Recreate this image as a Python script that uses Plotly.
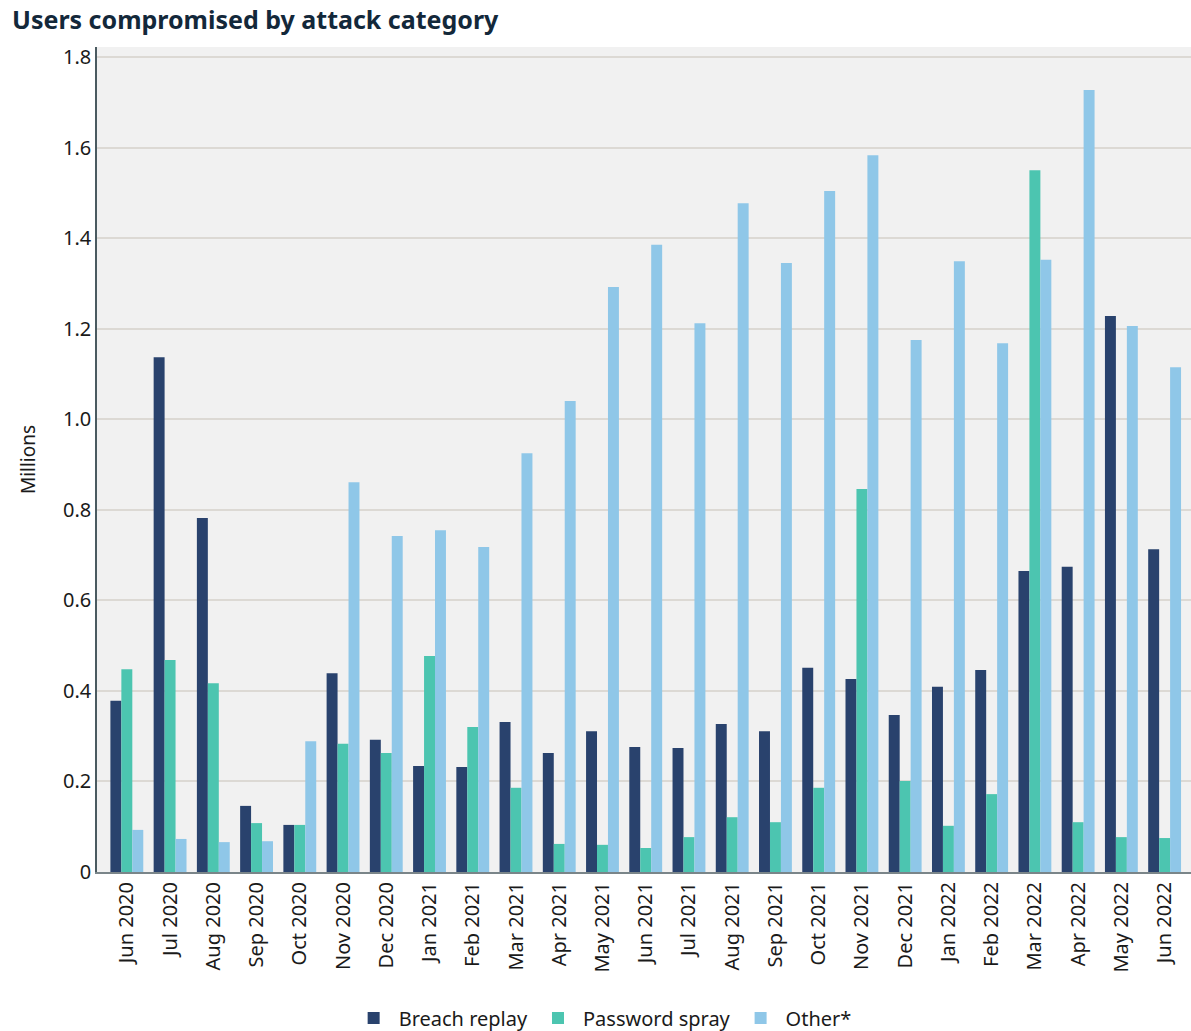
import plotly.graph_objects as go

months = ["Jun 2020", "Jul 2020", "Aug 2020", "Sep 2020", "Oct 2020", "Nov 2020", "Dec 2020",
          "Jan 2021", "Feb 2021", "Mar 2021", "Apr 2021", "May 2021", "Jun 2021", "Jul 2021",
          "Aug 2021", "Sep 2021", "Oct 2021", "Nov 2021", "Dec 2021", "Jan 2022", "Feb 2022",
          "Mar 2022", "Apr 2022", "May 2022", "Jun 2022"]

breach_replay = [0.378, 1.137, 0.782, 0.146, 0.104, 0.439, 0.292, 0.234, 0.232, 0.331, 0.263,
                 0.311, 0.276, 0.274, 0.327, 0.311, 0.451, 0.426, 0.347, 0.409, 0.446, 0.665,
                 0.674, 1.228, 0.713]
password_spray = [0.448, 0.468, 0.417, 0.108, 0.104, 0.283, 0.263, 0.477, 0.320, 0.186, 0.062,
                  0.060, 0.053, 0.077, 0.121, 0.110, 0.186, 0.846, 0.201, 0.102, 0.172, 1.550,
                  0.110, 0.077, 0.075]
other = [0.093, 0.073, 0.066, 0.068, 0.289, 0.861, 0.742, 0.755, 0.718, 0.925, 1.040,
         1.292, 1.385, 1.212, 1.477, 1.345, 1.504, 1.583, 1.175, 1.349, 1.168, 1.352,
         1.727, 1.206, 1.115]

y_ticks = [0, 0.2, 0.4, 0.6, 0.8, 1.0, 1.2, 1.4, 1.6, 1.8]
y_tick_labels = ["0", "0.2", "0.4", "0.6", "0.8", "1.0", "1.2", "1.4", "1.6", "1.8"]

FONT = "Noto Sans"

fig = go.Figure()
fig.add_bar(x=months, y=breach_replay, name="Breach replay", marker_color="#29426d")
fig.add_bar(x=months, y=password_spray, name="Password spray", marker_color="#4cc5b0")
fig.add_bar(x=months, y=other, name="Other*", marker_color="#8fc7e8")

fig.update_traces(marker_line_width=0)

fig.update_layout(
    width=1191, height=1031,
    barmode="group", bargap=0.24, bargroupgap=0,
    plot_bgcolor="#f1f1f1", paper_bgcolor="white",
    margin=dict(l=97, r=0, t=47, b=159),
    font=dict(family=FONT, size=20, color="#1a1a1a"),
    title=dict(text="<b>Users compromised by attack category</b>",
               x=12 / 1191, xanchor="left", xref="container",
               y=1 - 20 / 1031, yanchor="middle", yref="container",
               font=dict(family=FONT, size=25, color="#13283a")),
    legend=dict(orientation="h", x=0.506, xanchor="center", xref="container",
                y=1 - 1018 / 1031, yanchor="middle", yref="container",
                font=dict(size=20, color="#1a1a1a"), itemwidth=40,
                traceorder="normal"),
    xaxis=dict(tickangle=-90, showgrid=False, showline=True, linecolor="#7a8589",
               linewidth=2, ticks="", tickfont=dict(size=20),
               range=[-0.69, 24.61]),
    yaxis=dict(range=[0, 1.822], tickvals=y_ticks, ticktext=y_tick_labels,
               showgrid=True, gridcolor="#dcd9d4", gridwidth=1.5,
               showline=True, linecolor="#4a5a60", linewidth=1.5,
               zeroline=False, ticks="", tickfont=dict(size=20),
               title=dict(text="Millions", font=dict(size=19), standoff=22)),
)

fig.write_html("out.html", config={"displayModeBar": False},
               post_script="document.body.style.margin='0';document.body.style.overflow='hidden';")
